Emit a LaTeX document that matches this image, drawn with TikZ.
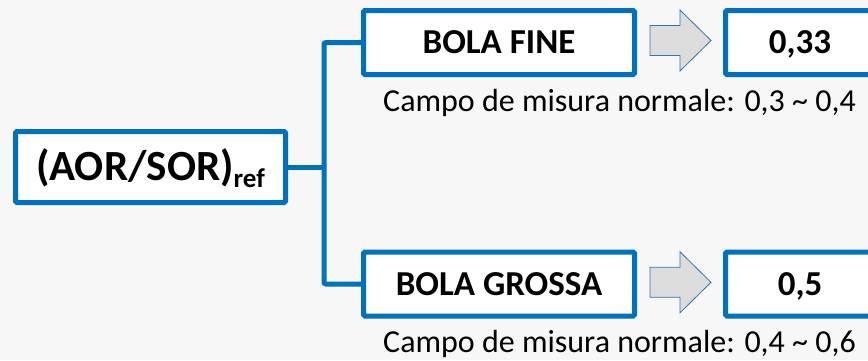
\documentclass[tikz,border=0pt]{standalone}
\usepackage{fontspec}
\setmainfont{Carlito}
\definecolor{bg}{HTML}{F7F7F7}
\definecolor{boxblue}{HTML}{0070C0}
\definecolor{arrowfill}{HTML}{DCDCDC}
\definecolor{arrowline}{HTML}{2E75B6}
\tikzset{
  box/.style={draw=boxblue, line width=5pt, fill=white, rounded corners=1.5pt, inner sep=0pt,
    font=\fontsize{35}{40}\selectfont\bfseries, text height=22pt, text depth=0pt,
    minimum width=271pt, minimum height=64pt},
  valbox/.style={box, minimum width=149pt},
  link/.style={draw=boxblue, line width=5pt, rounded corners=2pt},
  note/.style={font=\fontsize{32}{36}\selectfont, inner sep=0pt, anchor=base west},
  blockarrowstyle/.style={fill=arrowfill, draw=arrowline, line width=0.8pt, line join=miter},
  pics/blockarrow/.style={code={
    \path[blockarrowstyle] (0,-15) -- (30,-15) -- (30,-30.5) -- (61,0) -- (30,30.5) -- (30,15) -- (0,15) -- cycle;
  }}
}
\begin{document}
\begin{tikzpicture}[x=1pt,y=-1pt]
\fill[bg] (0,0) rectangle (868,360);
\useasboundingbox (0,0) rectangle (868,360);

\node[box, minimum width=270pt, minimum height=71pt, font=\fontsize{43}{48}\selectfont\bfseries, text height=27pt]
  (root) at (150.5,167) {(AOR/SOR)\raisebox{-7pt}{\fontsize{27}{27}\selectfont ref}};

\node[box] (fine) at (499,42.5) {BOLA FINE};
\node[box] (grossa) at (499,284) {BOLA GROSSA};

\node[valbox] (val1) at (800,42.5) {0,33};
\node[valbox] (val2) at (800,284) {0,5};

\coordinate (j) at (324,167);
\draw[link] (fine.west) -| (j) |- (grossa.west);
\draw[link] (root.east) -- (j);

\pic at (650,40.5) {blockarrow};
\pic at (650,282.3) {blockarrow};

\node[note] (note1) at (383,111) {Campo de misura normale: 0,3 \textasciitilde{} 0,4};
\node[note] (note2) at (383,352) {Campo de misura normale: 0,4 \textasciitilde{} 0,6};
\end{tikzpicture}
\end{document}
